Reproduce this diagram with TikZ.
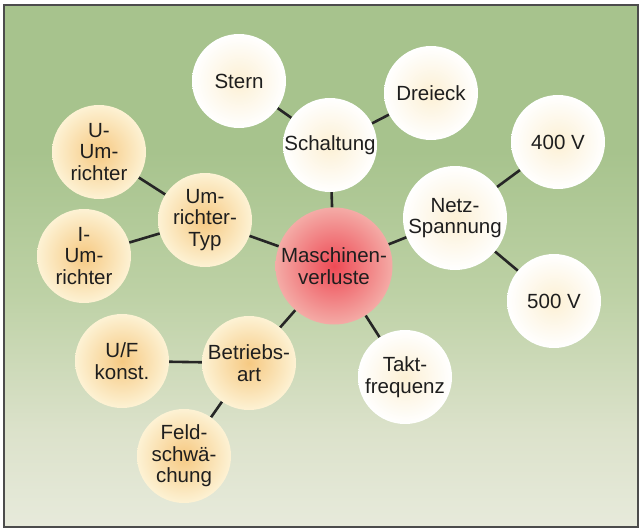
\documentclass[tikz,border=0pt]{standalone}
\usepackage{fontspec}
\setmainfont{Liberation Sans}
\usetikzlibrary{backgrounds}
\definecolor{bgtop}{HTML}{A7C38D}
\definecolor{bgmid}{HTML}{BDD1A5}
\definecolor{bglow}{HTML}{DCE2CB}
\definecolor{bgbot}{HTML}{E7EADB}
\definecolor{wcore}{HTML}{FCF0D4}
\definecolor{ocore}{HTML}{F6C982}
\definecolor{orim}{HTML}{FDF2D4}
\definecolor{rcore}{HTML}{EE4A55}
\definecolor{rrim}{HTML}{F4ABA6}
\definecolor{txt}{HTML}{1E1E1E}
\pgfdeclareverticalshading{bgfade}{100bp}{color(0bp)=(bgbot); color(25bp)=(bgbot);
  color(34bp)=(bglow); color(47.5bp)=(bgmid); color(61bp)=(bgtop); color(100bp)=(bgtop)}

\begin{document}
\begin{tikzpicture}[x=1pt, y=-1pt,
  bub/.style={circle, minimum size=94pt, inner sep=0pt, align=center, text=txt,
    font=\fontsize{20.5}{21.5}\selectfont},
  wbub/.style={bub, inner color=wcore, outer color=white},
  obub/.style={bub, inner color=ocore, outer color=orim},
  rbub/.style={bub, inner color=rcore, outer color=rrim, minimum size=117pt},
  lnk/.style={line width=2.6pt, black!85}]
\useasboundingbox (0,0) rectangle (641,530);

% middle
\node[rbub] (verl) at (334,266) {Maschinen-\\verluste};
% Schaltung
\node[wbub] (schalt) at (330,145) {Schaltung};
\node[wbub] (stern) at (239,81) {Stern};
\node[wbub] (drei) at (431,93) {Dreieck};
% Netzspannung
\node[wbub, minimum size=104pt] (netz) at (455,218) {Netz-\\Spannung};
\node[wbub] (v400) at (558,142) {400 V};
\node[wbub] (v500) at (554,301) {500 V};
% Umrichter
\node[obub] (typ) at (205,220) {Um-\\richter-\\Typ};
\node[obub] (uum) at (99,152) {U-\\Um-\\richter};
\node[obub] (ium) at (84,256) {I-\\Um-\\richter};
% Betriebsart
\node[obub] (betr) at (249,363) {Betriebs-\\art};
\node[obub] (ufk) at (122,361) {U/F\\konst.};
\node[obub] (feld) at (184,456) {Feld-\\schwä-\\chung};
\node[wbub] (takt) at (405,377) {Takt-\\frequenz};

\begin{scope}[on background layer]
\fill[white] (0,0) rectangle (641,530);
\shade[shading=bgfade] (4,5) rectangle (638,527);
\draw[black!70, line width=1.4pt] (4,5) rectangle (638,527);
\foreach \a/\b in {stern/schalt, drei/schalt, schalt/verl, v400/netz, v500/netz, netz/verl,
  uum/typ, ium/typ, typ/verl, ufk/betr, feld/betr, betr/verl, takt/verl}
  {\draw[lnk] (\a) -- (\b);}
\end{scope}
\end{tikzpicture}
\end{document}
